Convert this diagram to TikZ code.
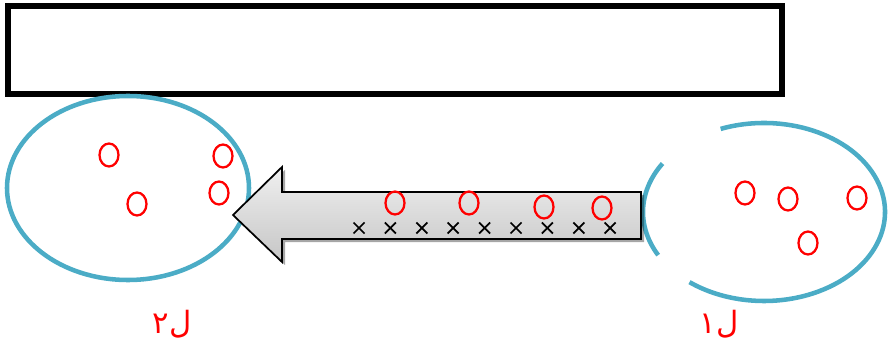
\documentclass[tikz,border=0pt]{standalone}
\usepackage{fontspec}
\usepackage{tikz}
\newfontfamily\arabicfont[Script=Arabic]{DejaVu Sans}
\TeXXeTstate=1
\tikzset{every picture/.style={line width=0.75pt}}

\begin{document}
\begin{tikzpicture}[x=0.75pt,y=0.75pt,yscale=-1,xscale=1,
	setring/.style={color={rgb, 255:red, 75; green, 172; blue, 198 }, line width=3.4pt},
	redring/.style={color={rgb, 255:red, 255; green, 0; blue, 0 }, line width=1.7pt},
	cross/.style={color=black, line width=1.3pt},
	setlabel/.style={text={rgb, 255:red, 255; green, 0; blue, 0 }, inner sep=0.75pt, font=\fontsize{23}{27}\selectfont\arabicfont}]
\useasboundingbox (0,0) rectangle (889,342);

%Shape: Rectangle
\draw [line width=3.8pt] (8,6) -- (782,6) -- (782,94) -- (8,94) -- cycle ;

%Shape: Ellipse (left set)
\draw [setring] (128,188) ellipse (121 and 92) ;
%Shape: Ellipse (right set, broken)
\draw [setring] (764,212) ++(-111:121 and 89) arc [start angle=-111, end angle=128, x radius=121, y radius=89] ;
\draw [setring] (764,212) ++(151:121 and 89) arc [start angle=151, end angle=213, x radius=121, y radius=89] ;

%Shape: Left Arrow
\fill [black, opacity=0.35] (644,195) -- (285,195) -- (285,170) -- (236,218) -- (285,265) -- (285,242) -- (644,242) -- cycle ;
\draw [top color=gray!12, bottom color=gray!45, line width=1.3pt] (641,192) -- (282,192) -- (282,167) -- (233,215) -- (282,262) -- (282,239) -- (641,239) -- cycle ;

%Crosses
\foreach \i in {0,...,8} {
	\pgfmathsetmacro{\cx}{359+31.4*\i}
	\draw [cross] ({\cx-5.5},222.5) -- ({\cx+5.5},233.5) ;
	\draw [cross] ({\cx-5.5},233.5) -- ({\cx+5.5},222.5) ;
}

%Red circles
\foreach \px/\py in {109/155, 223/156, 137/204, 219/193, 395/203, 469/203, 544/207, 602/208, 745/193, 788/199, 857/198, 808/243}
	\draw [redring] (\px,\py) ellipse (9.5 and 11.5) ;

\draw (172,324) node [setlabel] (lbltwo) {\beginR ل٢\endR};
\draw (719,324) node [setlabel] (lblone) {\beginR ل١\endR};
\end{tikzpicture}
\end{document}
